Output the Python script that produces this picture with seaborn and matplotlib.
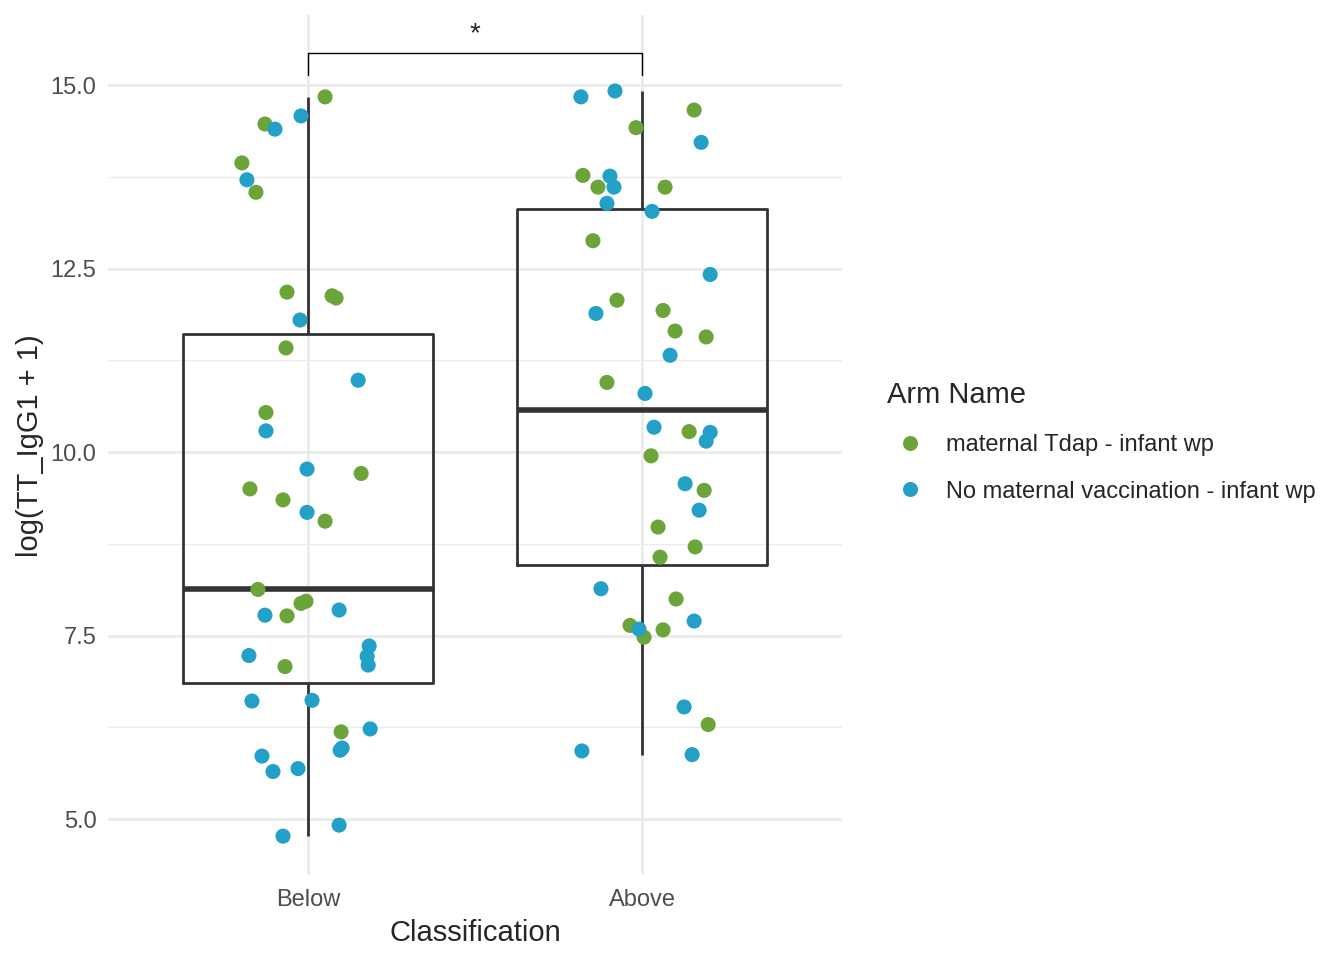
import pandas as pd
import seaborn as sns
import matplotlib
matplotlib.use("Agg")
import matplotlib.pyplot as plt
from matplotlib.ticker import MultipleLocator
from matplotlib.lines import Line2D

classes = ["Below", "Above"]
arms = ["maternal Tdap - infant wp", "No maternal vaccination - infant wp"]
arm_colors = ["#6BA53A", "#22A0C8"]

# values, with the horizontal jitter of each point (category units)
below_tdap = [14.84, 14.47, 13.94, 13.54, 12.18, 12.13, 12.10, 11.42, 10.54, 9.50,
              9.35, 9.71, 9.06, 8.13, 7.94, 7.97, 7.77, 7.08, 6.19]
below_tdap_jit = [0.051, -0.129, -0.198, -0.156, -0.063, 0.072, 0.084, -0.066, -0.126, -0.174,
                  -0.075, 0.159, 0.051, -0.150, -0.021, -0.006, -0.063, -0.069, 0.099]

below_none = [14.58, 14.40, 13.71, 11.80, 10.98, 10.29, 9.77, 9.18, 7.85, 7.78,
              7.23, 7.36, 7.22, 7.10, 6.61, 6.62, 6.23, 5.86, 5.65, 5.69,
              5.94, 5.97, 4.77, 4.92]
below_none_jit = [-0.021, -0.099, -0.183, -0.024, 0.150, -0.126, -0.003, -0.003, 0.093, -0.129,
                  -0.177, 0.183, 0.177, 0.180, -0.168, 0.012, 0.186, -0.138, -0.105, -0.030,
                  0.096, 0.102, -0.075, 0.093]

above_tdap = [14.66, 14.42, 13.77, 13.61, 13.61, 12.88, 12.07, 11.93, 11.65, 11.57,
              10.95, 10.28, 9.95, 9.48, 8.98, 8.71, 8.57, 8.00, 7.64, 7.58,
              7.48, 6.29]
above_tdap_jit = [0.156, -0.018, -0.177, -0.132, 0.069, -0.147, -0.075, 0.063, 0.099, 0.192,
                  -0.105, 0.141, 0.027, 0.186, 0.048, 0.159, 0.054, 0.102, -0.036, 0.063,
                  0.006, 0.198]

above_none = [14.84, 14.92, 14.22, 13.76, 13.61, 13.39, 13.28, 12.42, 11.89, 11.32,
              10.80, 10.34, 10.27, 10.15, 9.57, 9.21, 8.14, 7.70, 7.59, 6.53,
              5.93, 5.88]
above_none_jit = [-0.183, -0.081, 0.177, -0.096, -0.084, -0.105, 0.030, 0.204, -0.138, 0.084,
                  0.009, 0.036, 0.204, 0.192, 0.129, 0.171, -0.123, 0.156, -0.009, 0.126,
                  -0.180, 0.150]

yticks = [5.0, 7.5, 10.0, 12.5, 15.0]
signif_label = "*"

groups = [
    ("Below", arms[0], below_tdap, below_tdap_jit),
    ("Below", arms[1], below_none, below_none_jit),
    ("Above", arms[0], above_tdap, above_tdap_jit),
    ("Above", arms[1], above_none, above_none_jit),
]
rows = []
for cls, arm, vals, jit in groups:
    for v, j in zip(vals, jit):
        rows.append({"Classification": cls, "Arm Name": arm, "value": v, "jitter": j})
df = pd.DataFrame(rows)
df["xpos"] = df["Classification"].map({c: i for i, c in enumerate(classes)}) + df["jitter"]

sns.set_style("white")
plt.rcParams["font.family"] = ["Liberation Sans", "DejaVu Sans"]

fig = plt.figure(figsize=(13.44, 9.6), dpi=100)
ax = fig.add_axes([0.0801, 0.0885, 0.5467, 0.8955])

sns.boxplot(data=df, x="Classification", y="value", order=classes, width=0.75,
            fill=False, color="#333333", linewidth=2.0, whis=1.5, showcaps=False,
            showfliers=False, medianprops={"linewidth": 4.0}, ax=ax)
sns.scatterplot(data=df, x="xpos", y="value", hue="Arm Name", hue_order=arms,
                palette=arm_colors, s=118, linewidth=0, legend=False, zorder=3, ax=ax)

# significance bracket
ax.plot([0, 0, 1, 1], [15.14, 15.44, 15.44, 15.14], color="black", lw=1.0, clip_on=False)
ax.text(0.5, 15.70, signif_label, ha="center", va="center", fontsize=20)

ax.set_xlim(-0.6, 1.6)
ax.set_ylim(4.24, 15.95)
ax.set_xticks([0, 1])
ax.set_xticklabels(classes)
ax.set_yticks(yticks)
ax.set_yticklabels([f"{t:.1f}" for t in yticks])
ax.yaxis.set_minor_locator(MultipleLocator(1.25))
ax.grid(True, which="major", color="#EBEBEB", lw=2.0)
ax.grid(True, which="minor", axis="y", color="#EBEBEB", lw=1.0)
ax.set_axisbelow(True)
for s in ax.spines.values():
    s.set_visible(False)
ax.tick_params(which="both", length=0, labelsize=17, labelcolor="#4D4D4D")
ax.tick_params(axis="y", pad=8)
ax.tick_params(axis="x", pad=10)
ax.set_xlabel("Classification", fontsize=21, labelpad=6)
ax.set_ylabel("log(TT_IgG1 + 1)", fontsize=21, labelpad=4.5)

handles = [Line2D([], [], ls="", marker="o", markersize=10.8, markeredgewidth=0,
                  color=c) for c in arm_colors]
leg = fig.legend(handles, arms, title="Arm Name", loc="upper left",
                 bbox_to_anchor=(0.6513, 0.6153), bbox_transform=fig.transFigure,
                 frameon=False, fontsize=17, title_fontsize=21, borderpad=0,
                 handlelength=1.9, handletextpad=0.6, labelspacing=1.05)
leg._legend_box.align = "left"

fig.savefig("out.png", dpi=100)
